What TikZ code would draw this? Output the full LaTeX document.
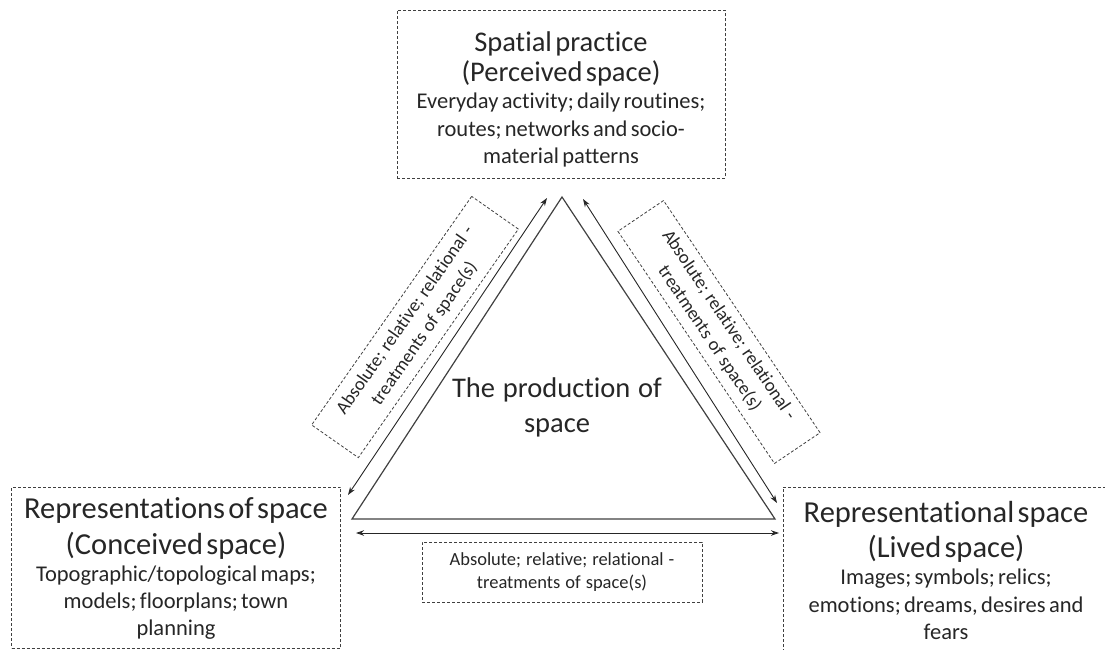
\documentclass[tikz,border=0pt]{standalone}
\usepackage{fontspec}
\setmainfont[Ligatures=NoCommon,WordSpace=1.2]{Carlito}
\usepackage{xcolor}
\usetikzlibrary{positioning,arrows.meta}

\begin{document}
\begin{tikzpicture}[x=1pt,y=-1pt,
					pbox/.style={
						draw=black!75, line width=0.9pt, dash pattern=on 3pt off 2pt,
						align=center, text=black!85, inner sep=4pt, anchor=north
					},
					tbox/.style={
						draw=black!75, line width=0.8pt, dash pattern=on 3pt off 2pt,
						align=center, text=black!85, inner sep=3pt,
						font=\fontsize{18.5}{23.5}\selectfont
					},
					dbl/.style={
						black!85, line width=0.9pt,
						{Stealth[length=8pt,width=5.5pt]}-{Stealth[length=8pt,width=5.5pt]}
					},
					tri/.style={
						draw=black!75, line width=1.2pt, line join=miter
					}
					]
					\useasboundingbox (0,0) rectangle (1105,650);
					
					% Ba góc
					\node[pbox, text width=320pt, minimum height=168pt] (perceived) at (561,10) {%
						{\fontsize{28.5}{30}\selectfont \rule{0pt}{30pt}Spatial practice\\(Perceived space)\par}
						{\fontsize{22.5}{27.5}\selectfont Everyday activity; daily routines;\\routes; networks and socio-\\material patterns\par}};
					\node[pbox, text width=321pt, minimum height=161pt] (conceived) at (176,487) {%
						{\fontsize{30.5}{36}\selectfont Representations of space\\(Conceived space)\par}
						{\fontsize{22.5}{27}\selectfont Topographic/topological maps;\\models; floorplans; town\\planning\par}};
					\node[pbox, text width=318pt, minimum height=166pt] (lived) at (946,487) {%
						{\fontsize{30.5}{35}\selectfont Representational space\\(Lived space)\par}
						{\fontsize{22.5}{27.5}\selectfont Images; symbols; relics;\\emotions; dreams, desires and\\fears\par}};
					
					% Tam giác
					\coordinate (apex) at (562,197);
					\coordinate (bl) at (352,519);
					\coordinate (br) at (775,519);
					\draw[tri] (apex) -- (bl) -- (br) -- cycle;
					\node[align=center, text=black!85, font=\fontsize{28.5}{35}\selectfont] (prod) at (557,407) {The production of\\space};
					
					% Mũi tên
					\coordinate (la) at (547,198);
					\coordinate (lb) at (348,495);
					\coordinate (ra) at (583,199);
					\coordinate (rb) at (777,503);
					\coordinate (ba) at (356,533);
					\coordinate (bb) at (779,533);
					\draw[dbl] (la) -- (lb);
					\draw[dbl] (ra) -- (rb);
					\draw[dbl] (ba) -- (bb);
					
					% Các hộp xử lý
					\node[tbox, rotate=55, minimum width=279pt, minimum height=57pt] (tleft) at (415,327) {Absolute; relative; relational -\\treatments of space(s)};
					\node[tbox, rotate=-56, minimum width=280pt, minimum height=55pt] (tright) at (719,332) {Absolute; relative; relational -\\treatments of space(s)};
					\node[tbox, minimum width=280pt, minimum height=60pt] (tbottom) at (562,572) {Absolute; relative; relational -\\treatments of space(s)};
				\end{tikzpicture}
\end{document}
